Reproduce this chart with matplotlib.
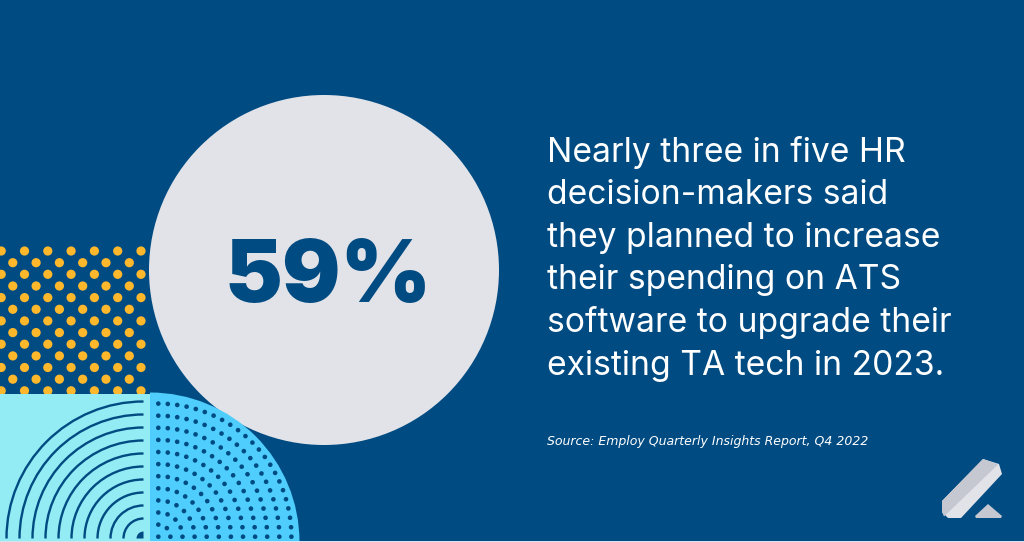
import numpy as np
import matplotlib
matplotlib.use('Agg')
import matplotlib.pyplot as plt
from matplotlib.patches import Circle, Rectangle, Wedge, Polygon, Arc

navy = '#004B82'
grey = '#E1E3E8'
orange = '#FFB72C'
aqua = '#93EBF3'
sky = '#4FCDFD'

big_number = '59%'
lines = ['Nearly three in five HR',
         'decision-makers said',
         'they planned to increase',
         'their spending on ATS',
         'software to upgrade their',
         'existing TA tech in 2023.']
line_y = [162, 204.5, 247, 289.5, 332, 374.5]
source = 'Source: Employ Quarterly Insights Report, Q4 2022'

arc_radii = [20, 33, 46, 59, 72, 85, 98, 111, 124, 137]
dot_rows = 12

fig = plt.figure(figsize=(10.24, 5.42), dpi=100, facecolor=navy)
ax = fig.add_axes([0, 0, 1, 1])
ax.set_xlim(0, 1024)
ax.set_ylim(542, 0)
ax.axis('off')

# orange dots
for i in range(7):
    y = 251 + i * 23.3
    for j in range(7):
        ax.add_patch(Circle((1.2 + j * 23.3, y), 4.6, fc=orange, ec='none', zorder=2))
for i in range(6):
    y = 262.7 + i * 23.3
    for j in range(6):
        ax.add_patch(Circle((12.8 + j * 23.3, y), 4.6, fc=orange, ec='none', zorder=2))

# big circle
ax.add_patch(Circle((324, 270), 175, fc=grey, ec='none', zorder=3))

# aqua square with arcs
ax.add_patch(Rectangle((0, 394), 150, 148, fc=aqua, ec='none', zorder=4))
for r in arc_radii:
    ax.add_patch(Arc((143.5, 538.5), 2 * r, 2 * r, theta1=180, theta2=270,
                     ec=navy, lw=1.7, zorder=5))
ax.add_patch(Wedge((143.5, 538.5), 7, 180, 270, fc=navy, ec='none', zorder=5))

# sky quarter circle, dots on rings
ax.add_patch(Wedge((150, 542), 149.5, 270, 360, fc=sky, ec='none', zorder=4))
for k in range(dot_rows):
    n = 2 * k + 1
    for a in np.linspace(0, np.pi / 2, n):
        r = 12.1 * k
        ax.add_patch(Circle((158.3 + r * np.sin(a), 536.7 - r * np.cos(a)),
                            2.3, fc=navy, ec='none', zorder=5))

ax.text(328, 302, big_number, fontsize=62.5, fontweight='black', color=navy,
        family='Inter', ha='center', va='baseline', zorder=6)

for txt, y in zip(lines, line_y):
    ax.text(547, y, txt, fontsize=24.2, color='white', family='Inter',
            ha='left', va='baseline', zorder=6)

ax.text(547, 444.5, source, fontsize=9.0, color='white', family='DejaVu Sans',
        style='italic', ha='left', va='baseline', zorder=6)

# logo
ax.add_patch(Polygon([(983, 459), (999, 464), (1002, 474), (961, 518), (948, 518),
                      (942, 512), (942, 501)], fc=grey, ec='none', zorder=6))
ax.add_patch(Polygon([(983, 459), (998, 464.5), (944, 516.5), (942, 512), (942, 501)],
                     fc='#C5C8D0', ec='none', zorder=7))
ax.add_patch(Polygon([(988, 504), (1002, 516), (1001, 518), (976, 518), (975, 516)],
                     fc='#C5C8D0', ec='none', zorder=6))

# thin light edge along the bottom
ax.add_patch(Rectangle((0, 541), 1024, 1, fc='#D5E3EE', ec='none', zorder=8))

fig.savefig('out.png', dpi=100, facecolor=navy)
